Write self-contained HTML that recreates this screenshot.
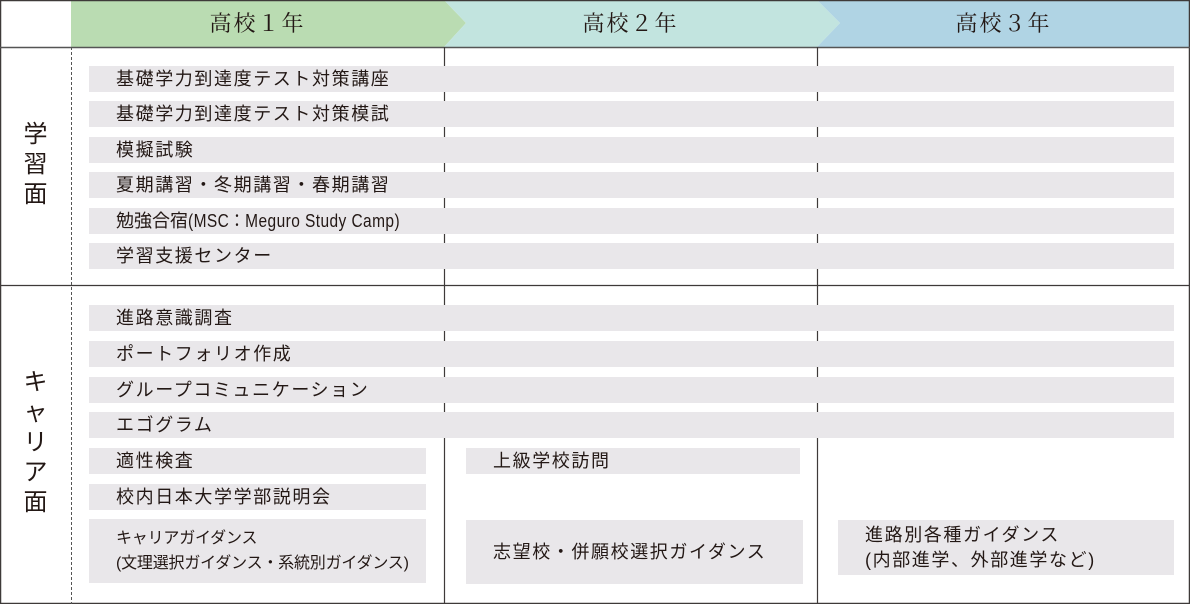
<!DOCTYPE html><html><head><meta charset="utf-8"><style>
body{margin:0;width:1190px;height:604px;position:relative;background:#fff;font-family:"Liberation Sans","Noto Sans CJK JP",sans-serif;color:#231815;overflow:hidden}
.a{position:absolute}
.b{position:absolute;background:#e9e7ea;font-size:18px;line-height:27px;height:26px;padding-left:27px;box-sizing:border-box;letter-spacing:1.6px;white-space:nowrap}
.h{position:absolute;top:0;height:47px;line-height:47px;font-family:"Liberation Serif","Noto Serif CJK JP",serif;font-size:22px;text-align:center;letter-spacing:2px}
.v{position:absolute;font-size:24px;width:71px;text-align:center;line-height:30px}
.n{display:inline-block;transform:scaleX(0.86);transform-origin:0 50%;letter-spacing:0.5px}
</style></head><body>
<svg class="a" style="left:0;top:0" width="1190" height="604">
<polygon points="71,0 444,0 466,23 444,47 71,47" fill="#badcb2"/>
<polygon points="444,0 817,0 840,23 817,47 444,47 466,23" fill="#c2e4df"/>
<polygon points="817,0 1190,0 1190,47 817,47 840,23" fill="#b0d4e4"/>
<rect x="0.5" y="0.5" width="1189" height="603" fill="none" stroke="#3e3a39" stroke-width="1.5"/>
<line x1="0" y1="47.5" x2="1190" y2="47.5" stroke="#555" stroke-width="1.5"/>
<line x1="0" y1="285.5" x2="1190" y2="285.5" stroke="#3e3a39" stroke-width="1.2"/>
<line x1="71.5" y1="47" x2="71.5" y2="604" stroke="#555" stroke-dasharray="3,2"/>
<line x1="444.5" y1="47" x2="444.5" y2="604" stroke="#3e3a39" stroke-width="1.2"/>
<line x1="817.5" y1="47" x2="817.5" y2="604" stroke="#3e3a39" stroke-width="1.2"/>
</svg>
<div class="h" style="left:71px;width:373px">高校１年</div>
<div class="h" style="left:444px;width:373px">高校２年</div>
<div class="h" style="left:817px;width:373px">高校３年</div>
<div class="v" style="top:120px">学<br>習<br>面</div>
<div class="v" style="top:368px">キ<br>ャ<br>リ<br>ア<br>面</div>
<div class="b" style="left:89px;top:66px;width:1085px">基礎学力到達度テスト対策講座</div>
<div class="b" style="left:89px;top:101px;width:1085px">基礎学力到達度テスト対策模試</div>
<div class="b" style="left:89px;top:137px;width:1085px">模擬試験</div>
<div class="b" style="left:89px;top:172px;width:1085px">夏期講習・冬期講習・春期講習</div>
<div class="b" style="left:89px;top:208px;width:1085px;letter-spacing:0">勉強合宿<span class="n">(MSC：Meguro Study Camp)</span></div>
<div class="b" style="left:89px;top:243px;width:1085px">学習支援センター</div>
<div class="b" style="left:89px;top:305px;width:1085px">進路意識調査</div>
<div class="b" style="left:89px;top:341px;width:1085px">ポートフォリオ作成</div>
<div class="b" style="left:89px;top:377px;width:1085px">グループコミュニケーション</div>
<div class="b" style="left:89px;top:412px;width:1085px">エゴグラム</div>
<div class="b" style="left:89px;top:448px;width:337px">適性検査</div>
<div class="b" style="left:466px;top:448px;width:334px">上級学校訪問</div>
<div class="b" style="left:89px;top:484px;width:337px">校内日本大学学部説明会</div>
<div class="b" style="left:89px;top:519px;width:337px;height:64px;padding-top:7px;line-height:25px;font-size:16px;letter-spacing:-0.2px">キャリアガイダンス<br>(文理選択ガイダンス・系統別ガイダンス)</div>
<div class="b" style="left:466px;top:520px;width:337px;height:64px;line-height:64px">志望校・併願校選択ガイダンス</div>
<div class="b" style="left:838px;top:520px;width:336px;height:55px;padding-top:3px;line-height:25px">進路別各種ガイダンス<br>(内部進学、外部進学など)</div>
</body></html>
